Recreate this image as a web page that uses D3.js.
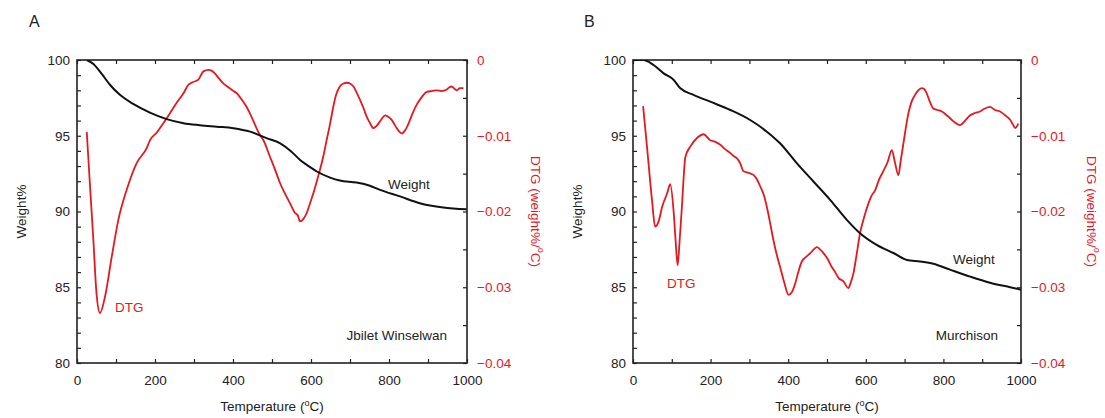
<!DOCTYPE html>
<html><head><meta charset="utf-8">
<script src="https://cdn.jsdelivr.net/npm/d3@7"></script>
<style>body{margin:0;background:#fff}svg{display:block}text{font-family:"Liberation Sans",Arial,sans-serif}</style>
</head><body>
<svg id="c" width="1105" height="418"></svg>
<script>
// ---- data ----
const xTicks = [0, 200, 400, 600, 800, 1000];
const weightTicks = [80, 85, 90, 95, 100];
const dtgTicks = [0, -0.01, -0.02, -0.03, -0.04];

// Panel A: Jbilet Winselwan
const tempWeightA = [25,42,63,85,110,144,187,230,273,315,358,401,444,486,521,550,572,595,615,649,674,717,751,777,828,879,939,999];
const weightA =     [100,99.74,99.1,98.35,97.7,97.1,96.53,96.1,95.83,95.7,95.6,95.5,95.27,94.84,94.5,93.95,93.4,92.98,92.64,92.24,92.04,91.91,91.7,91.43,91.0,90.55,90.27,90.15];
const tempDtgA = [25,33,42,50,59,72,89,106,127,153,179,187,204,230,256,273,285,298,311,324,337,345,354,365,375,388,401,410,422,435,444,456,469,478,495,508,521,534,546,559,566,572,580,589,597,606,615,623,632,640,649,657,665,674,683,692,700,709,718,726,735,743,751,760,766,773,781,790,798,807,814,820,827,833,841,850,860,871,884,897,910,922,935,948,955,961,968,974,982,991];
const dtgA = [-0.0095,-0.0163,-0.0238,-0.0308,-0.0334,-0.0312,-0.026,-0.0211,-0.0172,-0.0136,-0.0116,-0.0106,-0.0096,-0.0077,-0.0056,-0.0044,-0.0033,-0.0029,-0.0026,-0.0015,-0.0013,-0.0014,-0.0018,-0.0025,-0.0031,-0.0036,-0.0041,-0.0044,-0.0052,-0.0062,-0.0071,-0.0085,-0.0099,-0.0106,-0.0128,-0.0145,-0.0163,-0.0177,-0.0189,-0.0202,-0.0205,-0.0213,-0.021,-0.0202,-0.019,-0.0176,-0.016,-0.0145,-0.0126,-0.0106,-0.0084,-0.0062,-0.0045,-0.0035,-0.0031,-0.003,-0.0031,-0.0035,-0.0044,-0.0053,-0.0064,-0.0075,-0.0083,-0.009,-0.0088,-0.0084,-0.0078,-0.0073,-0.0075,-0.0079,-0.0085,-0.009,-0.0095,-0.0097,-0.0093,-0.0084,-0.0071,-0.0059,-0.0049,-0.0042,-0.0041,-0.004,-0.0041,-0.0039,-0.0036,-0.0035,-0.0038,-0.004,-0.0037,-0.0037];

// Panel B: Murchison
const tempWeightB = [0,27,53,79,105,122,156,199,251,302,345,379,422,465,508,551,585,628,671,706,740,774,817,869,920,972,1000];
const weightB =     [100,100,99.67,99.12,98.68,98.13,97.7,97.25,96.7,96.04,95.27,94.5,93.19,91.98,90.77,89.45,88.57,87.8,87.26,86.8,86.7,86.55,86.16,85.7,85.3,85.0,84.84];
const tempDtgB = [26,36,49,57,66,75,88,96,105,110,115,120,126,135,148,165,182,199,212,225,238,251,260,268,276,285,298,311,320,328,337,345,353,362,370,379,390,401,410,418,426,435,446,457,466,474,482,491,502,512,521,530,542,555,561,568,576,585,596,607,615,624,634,645,656,667,675,684,690,697,703,710,718,727,735,744,750,757,765,774,785,796,811,826,834,843,856,869,881,894,907,920,933,946,959,972,979,985,993];
const dtgB = [-0.0061,-0.0114,-0.0185,-0.022,-0.0213,-0.0194,-0.0176,-0.0164,-0.0202,-0.024,-0.0271,-0.024,-0.0194,-0.0128,-0.0114,-0.0103,-0.0098,-0.0106,-0.0108,-0.0112,-0.0118,-0.0123,-0.0127,-0.013,-0.0136,-0.0147,-0.0149,-0.0152,-0.0158,-0.0167,-0.0178,-0.0194,-0.0214,-0.0238,-0.0256,-0.0273,-0.0294,-0.031,-0.0306,-0.0295,-0.028,-0.0266,-0.026,-0.0255,-0.025,-0.0247,-0.025,-0.0255,-0.0263,-0.0273,-0.028,-0.0288,-0.0292,-0.0301,-0.0294,-0.0282,-0.0258,-0.0229,-0.0207,-0.0189,-0.0179,-0.0172,-0.0158,-0.0147,-0.0135,-0.0119,-0.0135,-0.0152,-0.0133,-0.011,-0.009,-0.007,-0.0055,-0.0046,-0.004,-0.0037,-0.0038,-0.0044,-0.0055,-0.0064,-0.0066,-0.0068,-0.0074,-0.0081,-0.0084,-0.0086,-0.008,-0.0073,-0.007,-0.0068,-0.0064,-0.0062,-0.0066,-0.0068,-0.0073,-0.0079,-0.0085,-0.009,-0.0084];

const panels = [
  {letter:"A", name:"Jbilet Winselwan", tw:tempWeightA, w:weightA, td:tempDtgA, d:dtgA,
   x0:77, x1:467, weightLbl:[388,184], dtgLbl:[115,307], nameLbl:[447,335], letterPos:[29,27], yLblX:21, rLblX:536},
  {letter:"B", name:"Murchison", tw:tempWeightB, w:weightB, td:tempDtgB, d:dtgB,
   x0:633, x1:1021, weightLbl:[953,259], dtgLbl:[667,283], nameLbl:[998,335], letterPos:[584,27], yLblX:577, rLblX:1092}
];

const RED = "#e3191f", FRAME = "#222";
const yTop = 60, yBot = 363;
const svg = d3.select("#c");

panels.forEach((p, i) => {
  const x = d3.scaleLinear().domain([0, 1000]).range([p.x0, p.x1]);
  const yW = d3.scaleLinear().domain([80, 100]).range([yBot, yTop]);
  const yD = d3.scaleLinear().domain([-0.04, 0]).range([yBot, yTop]);
  const g = svg.append("g");

  g.append("clipPath").attr("id", "clip" + i).append("rect")
    .attr("x", p.x0).attr("y", yTop).attr("width", p.x1 - p.x0).attr("height", yBot - yTop);

  // axes with inward ticks
  const axB = d3.axisBottom(x).tickValues(d3.range(0, 1001, 100)).tickSizeInner(-4).tickSizeOuter(0)
    .tickFormat(d => xTicks.includes(d) ? d : "");
  const axT = d3.axisTop(x).tickValues(d3.range(0, 1001, 100)).tickSizeInner(-4).tickSizeOuter(0).tickFormat("");
  const axL = d3.axisLeft(yW).tickValues(d3.range(80, 100.1, 1)).tickSizeInner(-4).tickSizeOuter(0)
    .tickFormat(d => weightTicks.includes(d) ? d : "");
  const axR = d3.axisRight(yD).tickValues(d3.range(0, 9).map(k => -k * 0.005)).tickSizeInner(-4).tickSizeOuter(0)
    .tickFormat(d => { const m = dtgTicks.find(t => Math.abs(t - d) < 1e-9); return m === undefined ? "" : (m === 0 ? "0" : d3.format(".2f")(m)); });

  const styleAx = (sel, col) => {
    sel.selectAll(".domain").remove();
    sel.selectAll(".tick line").attr("stroke", FRAME).attr("stroke-width", 1.2);
    sel.selectAll(".tick text").attr("fill", col).style("font-size", "13.5px")
      .style("font-family", '"Liberation Sans",Arial,sans-serif');
  };
  g.append("g").attr("transform", `translate(0,${yBot})`).call(axB).call(s => styleAx(s, "#222"))
    .selectAll(".tick text").attr("dy", "0.95em").attr("y", 9);
  g.append("g").attr("transform", `translate(0,${yTop})`).call(axT).call(s => styleAx(s, "#222"));
  g.append("g").attr("transform", `translate(${p.x0},0)`).call(axL).call(s => styleAx(s, "#222"))
    .selectAll(".tick text").attr("x", -7);
  g.append("g").attr("transform", `translate(${p.x1},0)`).call(axR).call(s => styleAx(s, RED))
    .selectAll(".tick text").attr("x", 10);

  // frame
  g.append("rect").attr("x", p.x0).attr("y", yTop).attr("width", p.x1 - p.x0).attr("height", yBot - yTop)
    .attr("fill", "none").attr("stroke", FRAME).attr("stroke-width", 1.6);

  // lines
  const lw = d3.line().x(d => x(d[0])).y(d => yW(d[1])).curve(d3.curveMonotoneX);
  const ld = d3.line().x(d => x(d[0])).y(d => yD(d[1])).curve(d3.curveMonotoneX);
  g.append("path").datum(p.td.map((t, k) => [t, p.d[k]])).attr("d", ld)
    .attr("fill", "none").attr("stroke", RED).attr("stroke-width", 1.8).attr("clip-path", `url(#clip${i})`);
  g.append("path").datum(p.tw.map((t, k) => [t, p.w[k]])).attr("d", lw)
    .attr("fill", "none").attr("stroke", "#111").attr("stroke-width", 2).attr("clip-path", `url(#clip${i})`);

  // text labels
  const T = (xx, yy, s, col, anchor) => g.append("text").attr("x", xx).attr("y", yy).attr("fill", col)
    .attr("text-anchor", anchor || "start").attr("dominant-baseline", "central").style("font-size", "13.5px").text(s);
  T(p.weightLbl[0], p.weightLbl[1], "Weight", "#222");
  T(p.dtgLbl[0], p.dtgLbl[1], "DTG", RED);
  T(p.nameLbl[0], p.nameLbl[1], p.name, "#222", "end");
  g.append("text").attr("x", p.letterPos[0]).attr("y", p.letterPos[1]).attr("fill", "#222")
    .style("font-size", "16px").text(p.letter);

  // x title
  const xt = g.append("text").attr("x", (p.x0 + p.x1) / 2).attr("y", 411).attr("text-anchor", "middle")
    .attr("fill", "#222").style("font-size", "13.5px");
  xt.append("tspan").text("Temperature (");
  xt.append("tspan").attr("dy", -5).style("font-size", "9px").text("o");
  xt.append("tspan").attr("dy", 5).text("C)");

  // left y title
  g.append("text").attr("transform", `translate(${p.yLblX},${(yTop + yBot) / 2}) rotate(-90)`)
    .attr("text-anchor", "middle").attr("dominant-baseline", "central").attr("fill", "#222")
    .style("font-size", "13.5px").text("Weight%");

  // right y title
  const rt = g.append("text").attr("transform", `translate(${p.rLblX},${(yTop + yBot) / 2}) rotate(90)`)
    .attr("text-anchor", "middle").attr("dominant-baseline", "central").attr("fill", RED)
    .style("font-size", "13.5px");
  rt.append("tspan").text("DTG (weight%/");
  rt.append("tspan").attr("dy", -5).style("font-size", "9px").text("o");
  rt.append("tspan").attr("dy", 5).text("C)");
});
</script>
</body></html>
